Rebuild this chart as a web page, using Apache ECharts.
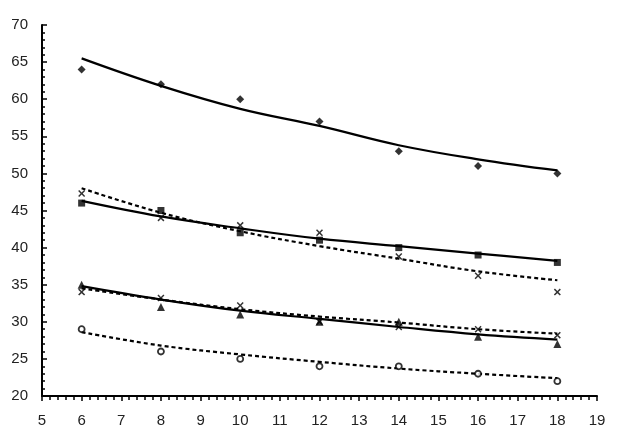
<!DOCTYPE html>
<html><head><meta charset="utf-8">
<script src="https://cdn.jsdelivr.net/npm/echarts@6/dist/echarts.min.js"></script>
<style>html,body{margin:0;padding:0;background:#fff}#c{width:629px;height:447px}</style>
</head><body><div id="c"></div>
<script>
const xs = [6, 8, 10, 12, 14, 16, 18];
// observed points
const diamondPts = [64, 62, 60, 57, 53, 51, 50];
const squarePts = [46, 45, 42, 41, 40, 39, 38];
const crossUpperPts = [47.3, 44, 43, 42, 38.8, 36.2, 34];
const trianglePts = [35, 32, 31, 30, 30, 28, 27];
const crossLowerPts = [34, 33.2, 32.2, 30, 29.3, 29, 28.2];
const circlePts = [29, 26, 25, 24, 24, 23, 22];
// trend lines
const diamondTrend = [65.5, 61.8, 58.7, 56.4, 53.8, 51.9, 50.4];
const squareTrend = [46.3, 44.2, 42.6, 41.2, 40.2, 39.2, 38.2];
const crossUpperTrend = [48.0, 44.7, 42.2, 40.2, 38.5, 36.8, 35.6];
const triangleTrend = [34.8, 33.0, 31.5, 30.4, 29.3, 28.3, 27.6];
const crossLowerTrend = [34.5, 33.0, 31.7, 30.7, 29.9, 29.0, 28.4];
const circleTrend = [28.6, 26.8, 25.6, 24.6, 23.7, 23.0, 22.4];
const xTicks = [5, 6, 7, 8, 9, 10, 11, 12, 13, 14, 15, 16, 17, 18, 19];
const yTicks = [20, 25, 30, 35, 40, 45, 50, 55, 60, 65, 70];

const pairs = (ys) => xs.map((x, i) => [x, ys[i]]);
const crossPath = 'path://M0,1.5L1.5,0L5,3.5L8.5,0L10,1.5L6.5,5L10,8.5L8.5,10L5,6.5L1.5,10L0,8.5L3.5,5Z';

function pts(data, symbol, size, extra) {
  return Object.assign({
    type: 'scatter', data: pairs(data), symbol: symbol, symbolSize: size,
    itemStyle: { color: '#000' }, z: 3
  }, extra || {});
}
function trend(data, dashed) {
  return {
    type: 'line', data: pairs(data), smooth: 0.4, symbol: 'none',
    lineStyle: { color: '#000', width: 2.2, type: dashed ? [4, 3] : 'solid' }, z: 2
  };
}

const chart = echarts.init(document.getElementById('c'));
chart.setOption({
  animation: false,
  backgroundColor: '#fff',
  grid: { left: 42, right: 32, top: 25, bottom: 51 },
  xAxis: {
    type: 'value', min: xTicks[0], max: xTicks[xTicks.length - 1], interval: 1,
    axisLine: { lineStyle: { color: '#000', width: 2 } },
    axisTick: { show: true, length: 5, inside: false, lineStyle: { color: '#000', width: 1.5 } },
    minorTick: { show: true, splitNumber: 5, length: 4, lineStyle: { color: '#000', width: 1.5 } },
    splitLine: { show: false },
    axisLabel: { color: '#222', fontFamily: 'Liberation Sans', fontSize: 15, margin: 17 }
  },
  yAxis: {
    type: 'value', min: yTicks[0], max: yTicks[yTicks.length - 1], interval: 5,
    axisLine: { lineStyle: { color: '#000', width: 2 } },
    axisTick: { show: true, length: 5, inside: true, lineStyle: { color: '#000', width: 1.5 } },
    minorTick: { show: true, splitNumber: 5, length: 3, lineStyle: { color: '#000', width: 1.5 } },
    splitLine: { show: false },
    axisLabel: { color: '#222', fontFamily: 'Liberation Sans', fontSize: 15, margin: 14 }
  },
  series: [
    trend(diamondTrend, false),
    trend(squareTrend, false),
    trend(crossUpperTrend, true),
    trend(triangleTrend, false),
    trend(crossLowerTrend, true),
    trend(circleTrend, true),
    pts(diamondPts, 'diamond', 8),
    pts(squarePts, 'rect', 7),
    pts(crossUpperPts, crossPath, 7),
    pts(trianglePts, 'triangle', 8),
    pts(crossLowerPts, crossPath, 7),
    pts(circlePts, 'circle', 6, { itemStyle: { color: '#fff', borderColor: '#000', borderWidth: 1.8 } })
  ]
});
</script></body></html>
